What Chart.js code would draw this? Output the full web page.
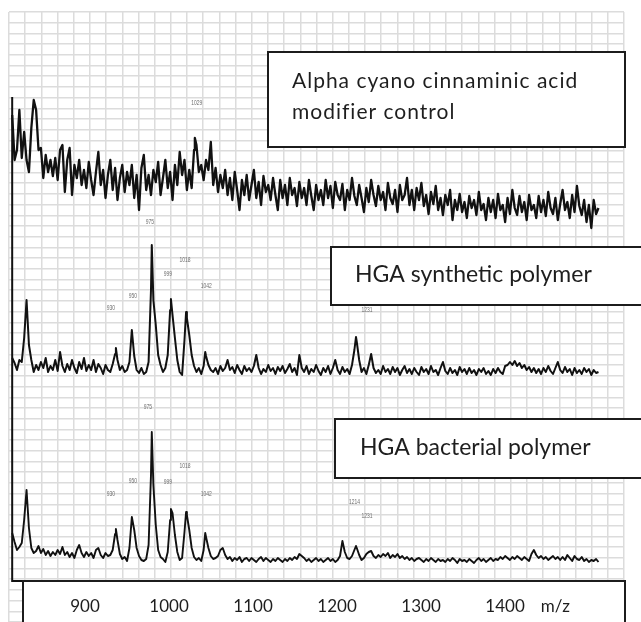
<!DOCTYPE html>
<html>
<head>
<meta charset="utf-8">
<title>MALDI spectra</title>
<script src="https://cdn.jsdelivr.net/npm/chart.js@4.4.1/dist/chart.umd.min.js"></script>
<style>
  html, body { margin: 0; padding: 0; background: #fff; }
</style>
</head>
<body>
<canvas id="spec" width="641" height="622"></canvas>
<script>
//--- spectra, sampled every 3 m/z from 800
var mzStart = 800;
var mzStep = 3;

var matrixCtrl = [
  125, 80, 90, 130, 82, 108, 80, 68, 112, 140,
  130, 90, 92, 62, 85, 68, 80, 64, 82, 60,
  90, 95, 48, 80, 92, 45, 75, 62, 80, 55,
  70, 52, 78, 60, 45, 68, 88, 55, 70, 42,
  65, 80, 50, 72, 40, 62, 75, 48, 68, 55,
  75, 42, 65, 30, 72, 85, 50, 65, 45, 70,
  58, 78, 45, 62, 80, 52, 68, 40, 75, 55,
  88, 65, 80, 50, 70, 52, 90, 95, 68, 75,
  60, 80, 70, 98, 55, 72, 48, 65, 52, 70,
  45, 62, 40, 68, 50, 30, 60, 45, 65, 40,
  55, 70, 42, 58, 35, 64, 48, 55, 40, 62,
  45, 30, 60, 42, 55, 35, 62, 45, 52, 34,
  58, 42, 52, 35, 60, 44, 30, 55, 40, 50,
  35, 60, 42, 54, 32, 58, 45, 40, 56, 30,
  50, 40, 62, 44, 35, 55, 42, 28, 52, 38,
  60, 45, 34, 54, 40, 48, 30, 57, 42, 36,
  50, 28, 55, 40, 45, 62, 35, 50, 30, 52,
  40, 57, 34, 45, 26, 48, 36, 54, 30, 42,
  25, 45, 35, 50, 20, 40, 30, 46, 28, 38,
  22, 44, 32, 40, 25, 48, 30, 36, 20, 42,
  28, 40, 22, 46, 30, 35, 18, 42, 26, 50,
  32, 25, 44, 28, 38, 20, 45, 30, 35, 22,
  44, 28, 40, 24, 48, 32, 26, 42, 20, 36,
  50, 30, 38, 22, 45, 28, 54, 34, 25, 40,
  18, 35, 12, 40, 26, 32
];

var synthetic = [
  22, 17, 10, 20, 18, 42, 80, 35, 20, 8,
  15, 10, 18, 12, 22, 8, 14, 10, 20, 9,
  28, 14, 8, 16, 10, 20, 12, 7, 18, 11,
  22, 9, 15, 10, 20, 8, 16, 12, 6, 15,
  10, 8, 16, 26, 20, 10, 14, 8, 10, 18,
  40, 24, 10, 7, 12, 6, 8, 18, 90, 80,
  55, 25, 15, 8, 12, 25, 70, 65, 42, 20,
  8, 5, 40, 62, 45, 25, 14, 8, 12, 6,
  14, 24, 15, 10, 8, 12, 6, 14, 9, 12,
  20, 10, 13, 7, 15, 10, 6, 14, 9, 12,
  8, 14, 25, 12, 6, 11, 8, 15, 9, 12,
  6, 13, 9, 14, 7, 11, 16, 8, 12, 5,
  25, 12, 8, 14, 6, 11, 8, 15, 9, 5,
  12, 8, 14, 6, 12, 20, 10, 6, 13, 8,
  11, 6, 15, 30, 38, 20, 8, 12, 6, 15,
  26, 12, 7, 10, 6, 14, 8, 11, 6, 13,
  8, 12, 5, 10, 14, 7, 11, 6, 12, 8,
  5, 13, 8, 11, 6, 14, 8, 10, 5, 12,
  18, 9, 6, 12, 7, 10, 5, 13, 8, 11,
  6, 12, 7, 10, 5, 11, 8, 12, 6, 9,
  5, 11, 7, 12, 8, 6, 14, 15, 18, 15,
  19, 14, 17, 12, 15, 10, 13, 8, 12, 7,
  11, 6, 12, 8, 14, 9, 6, 12, 18, 10,
  7, 13, 8, 11, 5, 12, 7, 10, 6, 12,
  8, 11, 5, 10, 7, 8
];

var bacterial = [
  37, 28, 20, 23, 27, 50, 80, 42, 22, 17,
  19, 24, 17, 21, 15, 19, 14, 18, 15, 20,
  16, 23, 15, 18, 13, 17, 12, 20, 25, 17,
  13, 18, 14, 17, 12, 20, 22, 15, 12, 17,
  14, 15, 20, 36, 30, 16, 11, 13, 9, 22,
  45, 40, 22, 14, 10, 9, 11, 25, 95, 85,
  45, 20, 13, 11, 8, 18, 50, 57, 35, 18,
  10, 12, 38, 55, 40, 22, 13, 10, 12, 9,
  20, 33, 22, 14, 11, 12, 14, 20, 22, 15,
  11, 13, 9, 12, 10, 13, 8, 11, 12, 9,
  12, 10, 8, 11, 13, 9, 12, 10, 8, 11,
  9, 12, 10, 8, 11, 9, 12, 10, 13, 11,
  16, 14, 12, 9, 11, 8, 10, 12, 9, 11,
  8, 10, 12, 9, 11, 8, 10, 14, 26, 18,
  12, 11, 14, 20, 22, 15, 10, 12, 16, 18,
  19, 14, 12, 15, 13, 16, 14, 17, 12, 15,
  13, 16, 12, 14, 11, 13, 10, 12, 9, 11,
  12, 10, 8, 11, 9, 12, 10, 8, 11, 9,
  10, 8, 11, 9, 12, 10, 7, 11, 9, 10,
  8, 11, 9, 7, 10, 12, 9, 11, 8, 10,
  12, 9, 11, 10, 13, 11, 14, 12, 10, 13,
  11, 14, 12, 10, 13, 11, 9, 16, 20, 15,
  12, 14, 11, 13, 10, 12, 14, 11, 13, 10,
  13, 10, 15, 12, 9, 14, 11, 10, 13, 9,
  11, 8, 10, 9, 11, 8
];

//--- labelled peaks: [m/z, apex intensity]
var matrixPeaks = [[1029, 102]];
var synthPeaks = [[930, 32], [950, 50], [975, 135], [999, 81], [1018, 68], [1042, 28], [1231, 43]];
var bactPeaks = [[930, 41], [950, 53], [975, 138], [999, 61], [1018, 58], [1042, 37], [1214, 29], [1231, 24]];

//--- where each peak label sits: [height above trace zero, x nudge]
var matrixLabelPos = [[137, 2]];
var synthLabelPos = [[72, -5], [84, 1], [158, -2], [106, -3], [120, -1], [94, 1], [70, 11]];
var bactLabelPos = [[76, -5], [89, 1], [163, -4], [88, -3], [104, -1], [76, 1], [68, 12], [54, 11]];

var tickValues = [900, 1000, 1100, 1200, 1300, 1400];
var axisUnit = 'm/z';

// the three traces are stacked: vertical offset of each trace
var traceOffsets = [382, 242, 52];

//--- helpers
function buildTrace(values, peaks, offset) {
    var pts = {};
    for (var i = 0; i < values.length; i++) {
        pts[mzStart + i * mzStep] = values[i];
    }
    for (var k = 0; k < peaks.length; k++) {
        pts[peaks[k][0]] = peaks[k][1];
    }
    return Object.keys(pts).map(Number).sort(function (a, b) { return a - b; })
        .map(function (mz) { return { x: mz, y: pts[mz] + offset }; });
}

function traceSet(values, peaks, offset, width) {
    return {
        data: buildTrace(values, peaks, offset),
        borderColor: '#111',
        borderWidth: width,
        borderJoinStyle: 'round',
        pointRadius: 0,
        tension: 0,
        fill: false
    };
}

function boxRect(ctx, x, y, w, h) {
    ctx.fillStyle = '#fff';
    ctx.fillRect(x, y, w, h);
    ctx.strokeStyle = '#1c1c1c';
    ctx.lineWidth = 2;
    ctx.strokeRect(x, y, w, h);
}

var peakGroups = [
    { peaks: matrixPeaks, pos: matrixLabelPos, offset: traceOffsets[0] },
    { peaks: synthPeaks, pos: synthLabelPos, offset: traceOffsets[1] },
    { peaks: bactPeaks, pos: bactLabelPos, offset: traceOffsets[2] }
];

var overlay = {
    id: 'overlay',
    afterDatasetsDraw: function (chart) {
        var ctx = chart.ctx;
        var xs = chart.scales.x, ys = chart.scales.y, xt = chart.scales.xt;
        ctx.save();

        // peak labels
        ctx.fillStyle = '#6e6e6e';
        ctx.font = '8px "Liberation Sans"';
        ctx.textAlign = 'center';
        ctx.textBaseline = 'middle';
        peakGroups.forEach(function (g) {
            g.peaks.forEach(function (p, k) {
                var px = xs.getPixelForValue(p[0]) + g.pos[k][1];
                var py = ys.getPixelForValue(g.offset + g.pos[k][0]);
                ctx.save();
                ctx.translate(px, py);
                ctx.scale(0.62, 1);
                ctx.fillText(String(p[0]), 0, 0);
                ctx.restore();
            });
        });

        // spectrum axis lines
        var x0 = xs.getPixelForValue(mzStart);
        ctx.strokeStyle = '#111';
        ctx.lineWidth = 2;
        ctx.beginPath();
        ctx.moveTo(x0, 97);
        ctx.lineTo(x0, 581);
        ctx.lineTo(625, 581);
        ctx.stroke();

        // sample title boxes
        ctx.textAlign = 'left';
        ctx.textBaseline = 'alphabetic';
        boxRect(ctx, 268, 52, 357, 95);
        ctx.fillStyle = '#1e1e1e';
        ctx.font = '21px Lato';
        ctx.letterSpacing = '1px';
        ctx.fillText('Alpha cyano cinnaminic acid', 292, 88);
        ctx.fillText('modifier control', 292, 119);
        ctx.letterSpacing = '0px';

        boxRect(ctx, 331, 247, 330, 58);
        ctx.fillStyle = '#1e1e1e';
        ctx.font = '23px Lato';
        ctx.fillText('HGA synthetic polymer', 355, 282);

        boxRect(ctx, 335, 419, 330, 59);
        ctx.fillStyle = '#1e1e1e';
        ctx.fillText('HGA bacterial polymer', 360, 455);

        // m/z axis box
        boxRect(ctx, 23, 581, 602, 60);
        ctx.fillStyle = '#1e1e1e';
        ctx.font = '17px Lato';
        ctx.textAlign = 'center';
        var lastRight = 0;
        tickValues.forEach(function (v) {
            var tx = xt.getPixelForValue(v);
            ctx.fillText(String(v), tx, 612);
            lastRight = tx + ctx.measureText(String(v)).width / 2;
        });
        ctx.textAlign = 'left';
        ctx.fillText(axisUnit, lastRight + 16, 612);

        ctx.restore();
    }
};

var gridStyle = { color: '#dcdcdc', lineWidth: 1.5, drawTicks: false };

var chart = new Chart(document.getElementById('spec'), {
    type: 'line',
    data: {
        datasets: [
            traceSet(matrixCtrl, matrixPeaks, traceOffsets[0], 2.3),
            traceSet(synthetic, synthPeaks, traceOffsets[1], 2),
            traceSet(bacterial, bactPeaks, traceOffsets[2], 1.9)
        ]
    },
    options: {
        responsive: false,
        animation: false,
        events: [],
        layout: { padding: { left: 9, top: 12, right: 17, bottom: 0 } },
        plugins: { legend: { display: false }, tooltip: { enabled: false } },
        scales: {
            x: { type: 'linear', min: 796, max: 1567, display: false },
            y: { type: 'linear', min: 0, max: 610, display: false },
            xt: { type: 'linear', min: 809.5, max: 1541.6, display: false },
            gx: {
                type: 'linear', position: 'bottom', min: 0, max: 38,
                ticks: { display: false, stepSize: 1, autoSkip: false },
                grid: gridStyle, border: { display: false }
            },
            gy: {
                type: 'linear', position: 'left', min: 0, max: 57,
                ticks: { display: false, stepSize: 1, autoSkip: false },
                grid: gridStyle, border: { display: false }
            }
        }
    },
    plugins: [overlay]
});
</script>
</body>
</html>
